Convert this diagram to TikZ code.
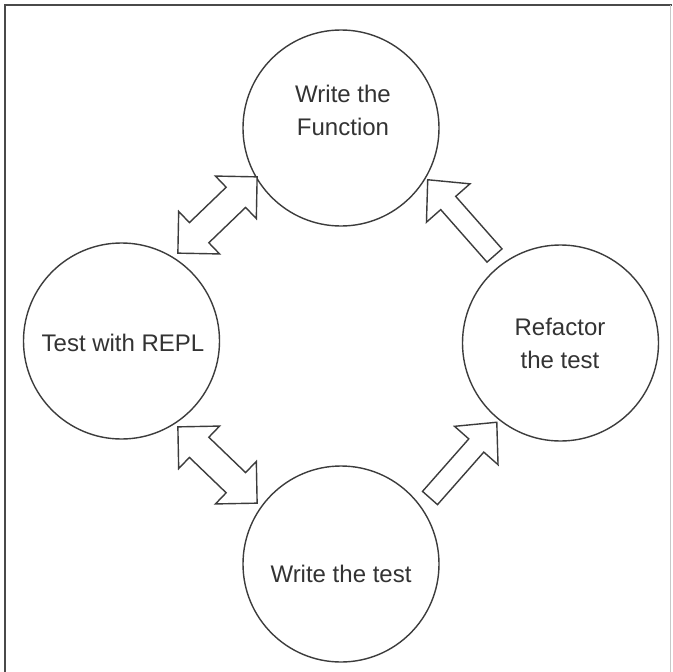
\documentclass[tikz,border=0pt]{standalone}
\usepackage{fontspec}
\setmainfont{Liberation Sans}
\definecolor{linegray}{HTML}{3C3C3C}
\definecolor{textgray}{HTML}{333333}
\definecolor{framegray}{HTML}{4A4A4A}
\definecolor{lightframe}{HTML}{C8C8C8}
\begin{document}
\begin{tikzpicture}[x=1pt,y=-1pt,
  stage/.style={circle,draw=linegray,line width=1.4pt,minimum size=196pt,inner sep=0pt},
  stagetext/.style={align=center,text=textgray,font=\fontsize{24}{33}\selectfont,inner sep=0pt},
  blockarrow/.style={draw=linegray,line width=1.4pt,fill=white,line join=miter}]
\useasboundingbox (0,0) rectangle (672,672);
\fill[white] (0,0) rectangle (672,672);
% frame
\draw[framegray,line width=2pt] (5,672) -- (5,5) -- (672,5);
\draw[lightframe,line width=0.8pt] (670,5) -- (670,672);
% stages
\node[stage] (func) at (341,128) {};
\node[stage] (repl) at (121.5,341) {};
\node[stage] (refac) at (560.5,343) {};
\node[stage] (wtest) at (341,564) {};
\node[stagetext] (funcT) at (343,110) {Write the\\Function};
\node[stagetext] (replT) at (123,343) {Test with REPL};
\node[stagetext] (refacT) at (560,343) {Refactor\\the test};
\node[stagetext] (wtestT) at (341,574) {Write the test};
% double arrows
\begin{scope}[shift={(217.5,215)},rotate=43.9]
\draw[blockarrow] (-55,0) -- (-25.5,-29.5) -- (-25.5,-14) -- (25.5,-14) -- (25.5,-29.5) -- (55,0) -- (25.5,29.5) -- (25.5,14) -- (-25.5,14) -- (-25.5,29.5) -- cycle;
\end{scope}
\begin{scope}[shift={(217.5,465)},rotate=-43.9]
\draw[blockarrow] (-55,0) -- (-25.5,-29.5) -- (-25.5,-14) -- (25.5,-14) -- (25.5,-29.5) -- (55,0) -- (25.5,29.5) -- (25.5,14) -- (-25.5,14) -- (-25.5,29.5) -- cycle;
\end{scope}
% single arrows
\begin{scope}[shift={(494.5,255.5)},rotate=131.4]
\draw[blockarrow] (0,-10) -- (70,-10) -- (70,-29) -- (101,0) -- (70,29) -- (70,10) -- (0,10) -- cycle;
\end{scope}
\begin{scope}[shift={(430,498)},rotate=48.6]
\draw[blockarrow] (0,-10) -- (70,-10) -- (70,-29) -- (101,0) -- (70,29) -- (70,10) -- (0,10) -- cycle;
\end{scope}
\end{tikzpicture}
\end{document}
